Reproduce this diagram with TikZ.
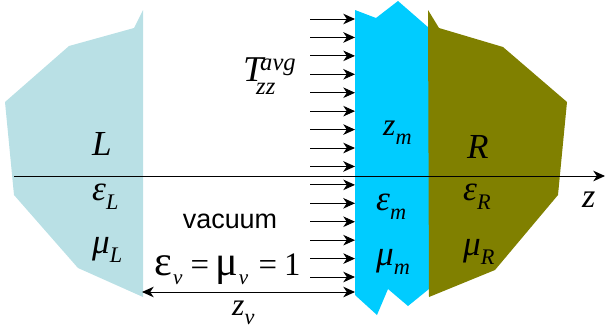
\documentclass[tikz,border=0pt]{standalone}
\usepackage{fontspec}
\setmainfont{Liberation Serif}
\setsansfont{Liberation Sans}
\usetikzlibrary{arrows.meta}

\definecolor{leftblue}{RGB}{185,224,229}
\definecolor{slabcyan}{RGB}{0,204,255}
\definecolor{rightolive}{RGB}{128,128,0}

\newcommand{\symsub}[2]{\textit{#1}\raisebox{-8pt}{\fontsize{19}{19}\selectfont\textit{#2}}}
\newcommand{\grk}[1]{{\fontsize{30}{30}\selectfont\textit{#1}}}

\begin{document}
\begin{tikzpicture}[
    x=0.03cm, y=-0.03cm,
    lbl/.style={anchor=base west, inner sep=0pt, font=\fontsize{27}{27}\selectfont},
    flux/.style={-{Stealth[length=10pt,width=9pt,inset=3pt]}, line width=0.8pt},
    axis/.style={-{Stealth[length=10pt,width=9pt,inset=3pt]}, line width=0.8pt}
]
\useasboundingbox (0,0) rectangle (605,331);

% Left medium
\fill[leftblue] (143,10) -- (134,28) -- (69,46) -- (5,102) -- (14,195) -- (78,268) -- (143,297) -- cycle;

% Slab
\fill[slabcyan] (355,10) -- (376,18) -- (398,1) -- (429,28) -- (429,289) -- (408,306) -- (388,289) -- (377,315) -- (355,295) -- cycle;

% Right medium
\fill[rightolive] (428,10) -- (439,28) -- (503,47) -- (567,102) -- (558,195) -- (495,270) -- (429,297) -- cycle;

% Axis
\coordinate (axstart) at (14,176);
\coordinate (axend) at (605,176);
\draw[axis] (axstart) -- (axend);

% Stress arrows
\foreach \i in {0,...,14} {
  \coordinate (fs\i) at (310,19+18.43*\i);
  \coordinate (fe\i) at (355,19+18.43*\i);
  \draw[flux] (fs\i) -- (fe\i);
}

% Gap width
\coordinate (gapl) at (142,292);
\coordinate (gapr) at (355,292);
\draw[flux, {Stealth[length=10pt,width=9pt,inset=3pt]}-{Stealth[length=10pt,width=9pt,inset=3pt]}] (gapl) -- (gapr);

% Labels
\node[lbl, font=\fontsize{31}{31}\selectfont] (tzz) at (243,81) {\textit{T}};
\node[anchor=base west, inner sep=0pt, font=\fontsize{21}{21}\selectfont] (tavg) at (260,70) {\textit{avg}};
\node[anchor=base west, inner sep=0pt, font=\fontsize{21}{21}\selectfont] (tsub) at (256,94) {\textit{zz}};

\node[lbl, font=\fontsize{30}{30}\selectfont] (lname) at (92,155) {\textit{L}};
\node[lbl] (epsl) at (92,200) {\symsub{\grk{ε}}{L}};
\node[lbl] (mul) at (92,253) {\symsub{\grk{μ}}{L}};

\node[lbl] (zm) at (383,135) {\symsub{z}{m}};
\node[lbl] (epsm) at (376,210) {\symsub{\grk{ε}}{m}};
\node[lbl] (mum) at (376,265) {\symsub{\grk{μ}}{m}};

\node[lbl, font=\fontsize{30}{30}\selectfont] (rname) at (467,158) {\textit{R}};
\node[lbl] (epsr) at (463,200) {\symsub{\grk{ε}}{R}};
\node[lbl] (mur) at (463,255) {\symsub{\grk{μ}}{R}};

\node[anchor=base, inner sep=0pt, font=\sffamily\fontsize{23}{23}\selectfont] (vac) at (230,228) {vacuum};
\node[lbl, font=\fontsize{28}{28}\selectfont] (vacval) at (154,275) {{\fontsize{36}{36}\selectfont ε}\hspace{1pt}\raisebox{-8pt}{\fontsize{18}{18}\selectfont\textit{v}}\hspace{7pt}=\hspace{5pt}{\fontsize{36}{36}\selectfont μ}\hspace{1pt}\raisebox{-8pt}{\fontsize{18}{18}\selectfont\textit{v}}\hspace{9pt}=\hspace{6pt}1};
\node[lbl] (zv) at (232,315) {\symsub{z}{v}};
\node[lbl, font=\fontsize{29}{29}\selectfont] (zaxis) at (582,207) {\textit{z}};

\end{tikzpicture}
\end{document}
